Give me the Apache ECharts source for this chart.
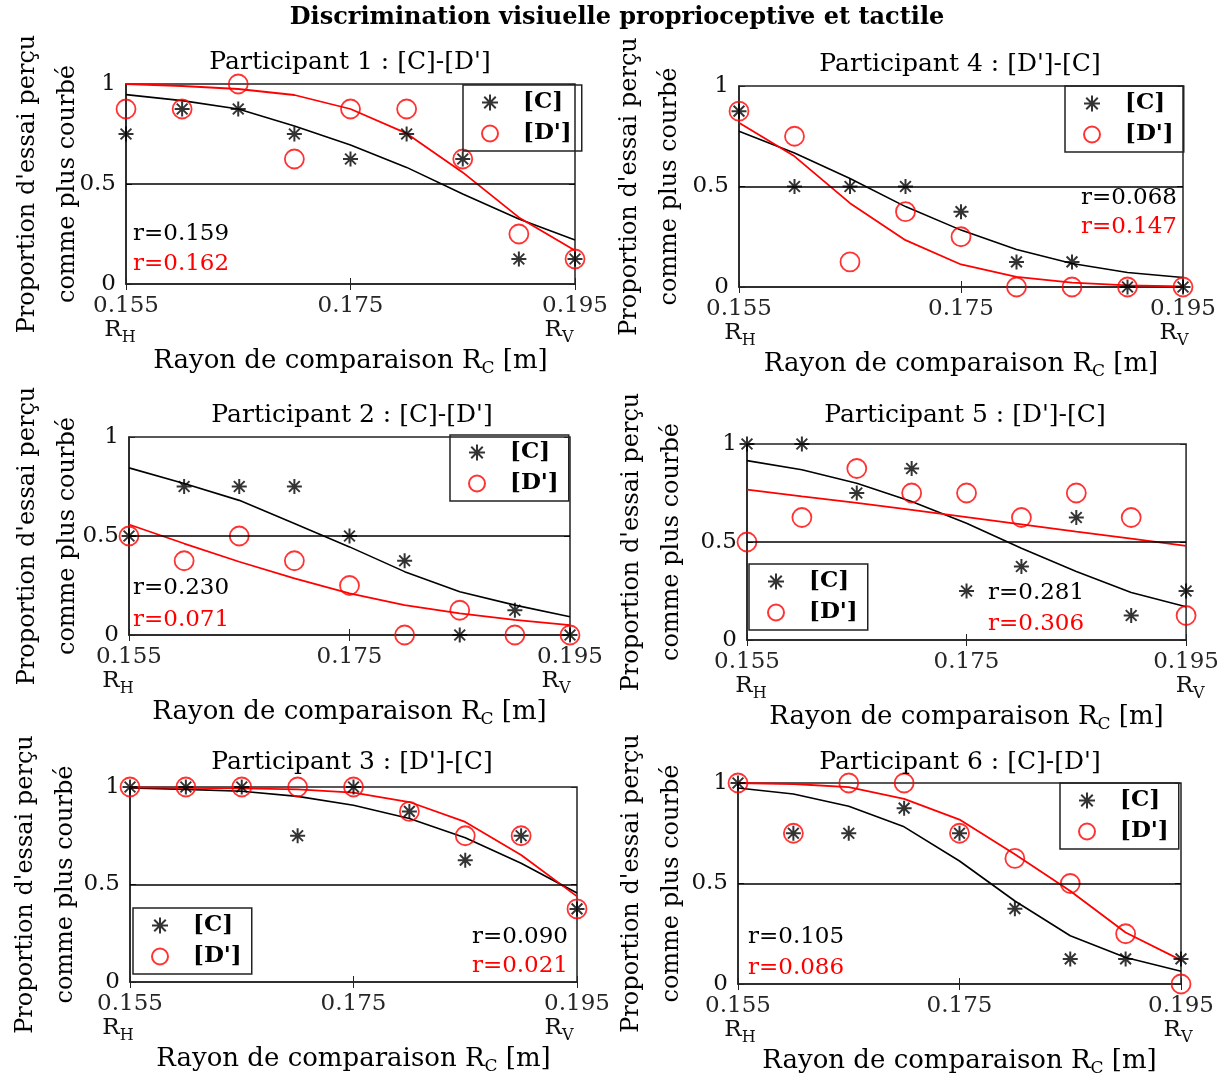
<!DOCTYPE html>
<html>
<head>
<meta charset="utf-8">
<script src="https://cdn.jsdelivr.net/npm/echarts@6/dist/echarts.min.js"></script>
<style>
html, body { margin: 0; background: #fff; }
#main { width: 1222px; height: 1083px; }
</style>
</head>
<body>
<div id="main"></div>
<script>
// rayon de comparaison (m)
var radius = [0.155, 0.16, 0.165, 0.17, 0.175, 0.18, 0.185, 0.19, 0.195];
var xTicks = ['0.155', '0.175', '0.195'];
var mainTitle = 'Discrimination visiuelle proprioceptive et tactile';
var panelTitles = ["Participant 1 : [C]-[D']", "Participant 2 : [C]-[D']", "Participant 3 : [D']-[C]",
                   "Participant 4 : [D']-[C]", "Participant 5 : [D']-[C]", "Participant 6 : [C]-[D']"];

// proportions observees [C] / [D'] et courbes ajustees
var p1C = [0.75, 0.875, 0.875, 0.75, 0.625, 0.75, 0.625, 0.125, 0.125];
var p1D = [0.875, 0.875, 1, 0.625, 0.875, 0.875, 0.625, 0.25, 0.125];
var p1FitC = [0.947, 0.917, 0.875, 0.79, 0.695, 0.583, 0.45, 0.325, 0.22];
var p1FitD = [1.0, 0.99, 0.975, 0.945, 0.875, 0.753, 0.558, 0.333, 0.167];
var p1R = ['r=0.159', 'r=0.162'];

var p2C = [0.5, 0.75, 0.75, 0.75, 0.5, 0.375, 0, 0.125, 0];
var p2D = [0.5, 0.375, 0.5, 0.375, 0.25, 0, 0.125, 0, 0];
var p2FitC = [0.844, 0.765, 0.68, 0.563, 0.445, 0.32, 0.218, 0.151, 0.092];
var p2FitD = [0.558, 0.462, 0.37, 0.286, 0.21, 0.151, 0.109, 0.076, 0.05];
var p2R = ['r=0.230', 'r=0.071'];

var p3C = [1, 1, 1, 0.75, 1, 0.875, 0.625, 0.75, 0.375];
var p3D = [1, 1, 1, 1, 1, 0.875, 0.75, 0.75, 0.375];
var p3FitC = [0.995, 0.988, 0.978, 0.952, 0.906, 0.838, 0.74, 0.609, 0.456];
var p3FitD = [0.998, 0.996, 0.993, 0.988, 0.971, 0.923, 0.821, 0.651, 0.439];
var p3R = ['r=0.090', 'r=0.021'];

var p4C = [0.875, 0.5, 0.5, 0.5, 0.375, 0.125, 0.125, 0, 0];
var p4D = [0.875, 0.75, 0.125, 0.375, 0.25, 0, 0, 0, 0];
var p4FitC = [0.775, 0.667, 0.54, 0.4, 0.283, 0.187, 0.117, 0.072, 0.047];
var p4FitD = [0.817, 0.65, 0.417, 0.233, 0.112, 0.05, 0.022, 0.008, 0.003];
var p4R = ['r=0.068', 'r=0.147'];

var p5C = [1, 1, 0.75, 0.875, 0.25, 0.375, 0.625, 0.125, 0.25];
var p5D = [0.5, 0.625, 0.875, 0.75, 0.75, 0.625, 0.75, 0.625, 0.125];
var p5FitC = [0.915, 0.869, 0.8, 0.707, 0.596, 0.468, 0.35, 0.242, 0.17];
var p5FitD = [0.767, 0.733, 0.7, 0.664, 0.627, 0.59, 0.553, 0.517, 0.48];
var p5R = ['r=0.281', 'r=0.306'];

var p6C = [1, 0.75, 0.75, 0.875, 0.75, 0.375, 0.125, 0.125, 0.125];
var p6D = [1, 0.75, 1, 1, 0.75, 0.625, 0.5, 0.25, 0];
var p6FitC = [0.975, 0.945, 0.884, 0.782, 0.612, 0.413, 0.24, 0.132, 0.063];
var p6FitD = [1.0, 0.995, 0.979, 0.921, 0.818, 0.645, 0.463, 0.256, 0.119];
var p6R = ['r=0.105', 'r=0.086'];

var dataC = [p1C, p2C, p3C, p4C, p5C, p6C];
var dataD = [p1D, p2D, p3D, p4D, p5D, p6D];
var fitC = [p1FitC, p2FitC, p3FitC, p4FitC, p5FitC, p6FitC];
var fitD = [p1FitD, p2FitD, p3FitD, p4FitD, p5FitD, p6FitD];
var rTexts = [p1R, p2R, p3R, p4R, p5R, p6R];

// mise en page de chaque sous-figure
var layout = [
  {grid: [126, 84, 449, 200], title: [350, 62], legend: [463, 85], r: ['left', 133, 234, 264], yGap: 38, rh: -6, rv: -16, yShift: 0},
  {grid: [129, 437, 441, 198], title: [352, 415], legend: [450, 435], r: ['left', 133, 588, 620], yGap: 41, rh: -11, rv: -14, yShift: 0},
  {grid: [130, 787, 447, 195], title: [352, 762], legend: [133, 908], r: ['right', 568, 937, 966], yGap: 44, rh: -12, rv: -18, yShift: 0},
  {grid: [739, 86, 444, 201], title: [960, 64], legend: [1065, 86], r: ['right', 1177, 198, 227], yGap: 49, rh: 1, rv: -9, yShift: 0},
  {grid: [747, 444, 440, 196], title: [965, 415], legend: [749, 564], r: ['left', 988, 593, 624], yGap: 55, rh: 4, rv: 4, yShift: 14},
  {grid: [738, 783, 443, 201], title: [960, 762], legend: [1060, 783], r: ['left', 748, 937, 968], yGap: 46, rh: 2, rv: -3, yShift: 0}
];

var font = 'DejaVu Serif';
var star = 'path://M0,-1L0,1M-1,0L1,0M-0.72,-0.72L0.72,0.72M-0.72,0.72L0.72,-0.72';

function pts(ys) {
  return radius.map(function (x, i) { return [x, ys[i]]; });
}

var grids = [], xAxes = [], yAxes = [], boxX = [], boxY = [], series = [], legends = [];
var titles = [{
  text: mainTitle, left: 617, top: 18, textAlign: 'center', textVerticalAlign: 'middle', padding: 0,
  textStyle: {fontFamily: font, fontWeight: 'bold', fontSize: 24, color: '#000'}
}];

layout.forEach(function (L, i) {
  grids.push({left: L.grid[0], top: L.grid[1], width: L.grid[2], height: L.grid[3],
    show: true, borderColor: '#222', borderWidth: 1.5, backgroundColor: 'transparent'});

  var padL = Math.max(0, 2 * L.rh), padRH = Math.max(0, -2 * L.rh);
  var padLV = Math.max(0, 2 * L.rv), padRV = Math.max(0, -2 * L.rv);
  xAxes.push({
    gridIndex: i, type: 'value', min: 0.155, max: 0.195, interval: 0.02,
    axisLine: {lineStyle: {color: '#222', width: 1.5}},
    axisTick: {inside: true, length: 6, lineStyle: {color: '#222'}},
    splitLine: {show: false},
    axisLabel: {
      margin: 9, color: '#262626', fontFamily: font, fontSize: 23,
      formatter: function (v) {
        var k = Math.round((v - 0.155) / 0.02);
        var s = '{n|' + xTicks[k] + '}';
        if (k === 0) s += '\n{rh|R}{sh|H}';
        if (k === 2) s += '\n{rv|R}{sv|V}';
        return s;
      },
      rich: {
        n: {fontFamily: font, fontSize: 23, lineHeight: 26, color: '#262626'},
        rh: {fontFamily: font, fontSize: 23, lineHeight: 25, color: '#111', verticalAlign: 'top', padding: [0, 0, 0, padL]},
        sh: {fontFamily: font, fontSize: 16, lineHeight: 16, color: '#111', padding: [13, padRH, 0, 0]},
        rv: {fontFamily: font, fontSize: 23, lineHeight: 25, color: '#111', verticalAlign: 'top', padding: [0, 0, 0, padLV]},
        sv: {fontFamily: font, fontSize: 16, lineHeight: 16, color: '#111', padding: [13, padRV, 0, 0]}
      }
    },
    name: '{m|Rayon de comparaison R}{s|C}{m| [m]}',
    nameLocation: 'middle', nameGap: 56,
    nameTextStyle: {
      rich: {
        m: {fontFamily: font, fontSize: 26, lineHeight: 27, color: '#000', verticalAlign: 'top'},
        s: {fontFamily: font, fontSize: 17, lineHeight: 17, color: '#000', padding: [13, 0, 0, 0]}
      }
    }
  });

  yAxes.push({
    gridIndex: i, type: 'value', min: 0, max: 1, interval: 0.5,
    axisLine: {lineStyle: {color: '#222', width: 1.5}},
    axisTick: {inside: true, length: 6, lineStyle: {color: '#222'}},
    splitLine: {show: false},
    axisLabel: {margin: 10, color: '#111', fontFamily: font, fontSize: 23,
      padding: [0, 0, 2 * L.yShift, 0],
      formatter: function (v) { return v === 0.5 ? '0.5' : String(v); }},
    name: "Proportion d'essai perçu\ncomme plus courbé",
    nameLocation: 'middle', nameRotate: 90, nameGap: L.yGap, nameMoveOverlap: false,
    nameTextStyle: {fontFamily: font, fontSize: 24, lineHeight: 40, color: '#000'}
  });

  // graduations du cadre (haut et droite), sans texte
  boxX.push({gridIndex: i, type: 'value', position: 'top', min: 0.155, max: 0.195, interval: 0.02,
    axisLine: {show: false}, axisLabel: {show: false}, splitLine: {show: false},
    axisTick: {inside: true, length: 6, lineStyle: {color: '#222'}}});
  boxY.push({gridIndex: i, type: 'value', position: 'right', min: 0, max: 1, interval: 0.5,
    axisLine: {show: false}, axisLabel: {show: false}, splitLine: {show: false},
    axisTick: {inside: true, length: 6, lineStyle: {color: '#222'}}});

  series.push({
    type: 'line', name: 'ajustement C', xAxisIndex: i, yAxisIndex: i, data: pts(fitC[i]),
    symbol: 'none', silent: true, z: 2, animation: false,
    lineStyle: {color: '#000', width: 1.6}, itemStyle: {color: '#000'},
    markLine: {silent: true, symbol: 'none', label: {show: false}, animation: false,
      lineStyle: {color: '#000', width: 1.6, type: 'solid'}, data: [{yAxis: 0.5}]}
  });
  series.push({
    type: 'line', name: "ajustement D'", xAxisIndex: i, yAxisIndex: i, data: pts(fitD[i]),
    symbol: 'none', silent: true, z: 2, animation: false,
    lineStyle: {color: '#ff0000', width: 1.8}, itemStyle: {color: '#ff0000'}
  });
  series.push({
    type: 'scatter', name: "[D']", xAxisIndex: i, yAxisIndex: i, data: pts(dataD[i]),
    symbol: 'circle', symbolSize: 19, clip: false, z: 3, animation: false,
    itemStyle: {color: 'transparent', borderColor: '#ff0000', borderWidth: 1.8}
  });
  series.push({
    type: 'scatter', name: '[C]', xAxisIndex: i, yAxisIndex: i, data: pts(dataC[i]),
    symbol: star, symbolSize: 15, clip: false, z: 4, animation: false,
    itemStyle: {color: 'transparent', borderColor: '#000', borderWidth: 2}
  });

  legends.push({
    left: L.legend[0], top: L.legend[1], orient: 'vertical', selectedMode: false,
    data: ['[C]', "[D']"],
    itemWidth: 16, itemHeight: 16, itemGap: 8, padding: [6, 10, 6, 18],
    borderColor: '#222', borderWidth: 1.5,
    textStyle: {fontFamily: font, fontWeight: 'bold', fontSize: 23, color: '#000', padding: [0, 0, 0, 20]}
  });

  titles.push({
    text: panelTitles[i], left: L.title[0], top: L.title[1], textAlign: 'center', textVerticalAlign: 'middle',
    padding: 0, textStyle: {fontFamily: font, fontWeight: 'normal', fontSize: 25, color: '#000'}
  });
  titles.push({
    text: rTexts[i][0], left: L.r[1], top: L.r[2], textAlign: L.r[0], textVerticalAlign: 'middle',
    padding: 0, textStyle: {fontFamily: font, fontWeight: 'normal', fontSize: 23, color: '#000'}
  });
  titles.push({
    text: rTexts[i][1], left: L.r[1], top: L.r[3], textAlign: L.r[0], textVerticalAlign: 'middle',
    padding: 0, textStyle: {fontFamily: font, fontWeight: 'normal', fontSize: 23, color: '#ff0000'}
  });
});

var myChart = echarts.init(document.getElementById('main'));
var option = {
  backgroundColor: '#fff',
  animation: false,
  title: titles,
  legend: legends,
  grid: grids,
  xAxis: xAxes.concat(boxX),
  yAxis: yAxes.concat(boxY),
  series: series
};
myChart.setOption(option);
</script>
</body>
</html>
